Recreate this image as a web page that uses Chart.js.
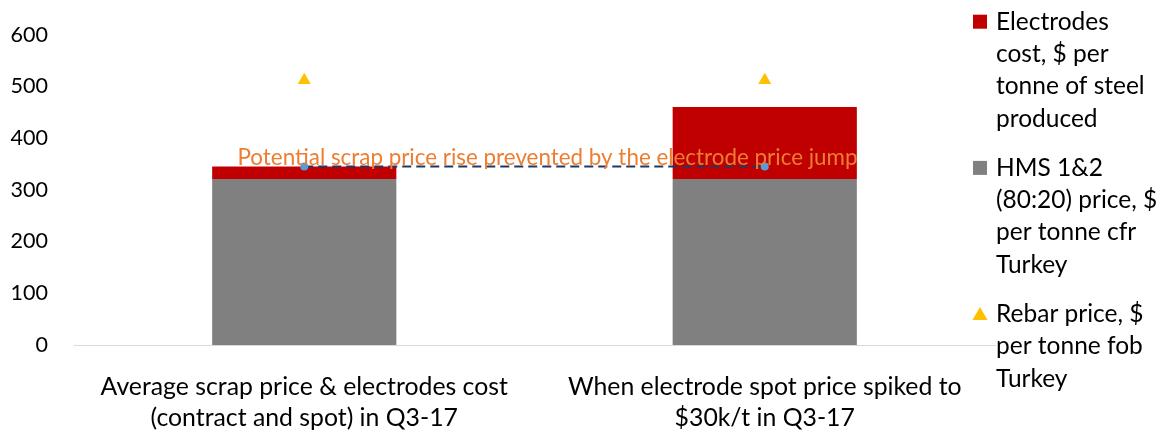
<!DOCTYPE html>
<html>
<head>
<meta charset="utf-8">
<script src="https://cdn.jsdelivr.net/npm/chart.js@4/dist/chart.umd.min.js"></script>
<style>
html,body{margin:0;padding:0;background:#fff;}
#wrap{position:relative;width:1166px;height:434px;}
</style>
</head>
<body>
<div id="wrap"><canvas id="c" width="1166" height="434"></canvas></div>
<script>
// ---- data ----
const categories = [
  ["Average scrap price & electrodes cost", "(contract and spot) in Q3-17"],
  ["When electrode spot price spiked to", "$30k/t in Q3-17"]
];
const scrapPrice = [321, 321];          // HMS 1&2 (80:20) price
const electrodesCost = [24, 139];        // Electrodes cost
const rebarPrice = [512, 512];           // Rebar price
const potentialLine = [345, 345];        // potential scrap price line
const yTicks = [0, 100, 200, 300, 400, 500, 600];
const lineLabel = "Potential scrap price rise prevented by the electrode price jump";
const legendElectrodes = ["Electrodes", "cost, $ per", "tonne of steel", "produced"];
const legendScrap = ["HMS 1&2", "(80:20) price, $", "per tonne cfr", "Turkey"];
const legendRebar = ["Rebar price, $", "per tonne fob", "Turkey"];

const FONT = "Lato, 'Liberation Sans', sans-serif";

const annotationPlugin = {
  id: 'annot',
  afterDatasetsDraw(chart) {
    const ctx = chart.ctx;
    const meta = chart.getDatasetMeta(3);
    const p0 = meta.data[0], p1 = meta.data[1];
    ctx.save();
    ctx.font = "22.4px " + FONT;
    ctx.fillStyle = "#ED7D31";
    ctx.textAlign = "center";
    ctx.textBaseline = "middle";
    ctx.fillText(lineLabel, (p0.x + p1.x) / 2 + 13, p0.y - 9);
    ctx.restore();
  },
  afterDraw(chart) {
    const ctx = chart.ctx;
    const items = [
      {lines: legendElectrodes, ds: 1, style: 'rect'},
      {lines: legendScrap, ds: 0, style: 'rect'},
      {lines: legendRebar, ds: 2, style: 'triangle'}
    ];
    const x0 = 973, tx = 996, lh = 32.3;
    let y = 21.7;
    ctx.save();
    ctx.font = "24.5px " + FONT;
    ctx.textAlign = "left";
    ctx.textBaseline = "middle";
    items.forEach(it => {
      const col = chart.data.datasets[it.ds].backgroundColor;
      ctx.fillStyle = col;
      if (it.style === 'rect') {
        ctx.fillRect(x0, y - 7, 14, 14);
      } else {
        ctx.beginPath();
        ctx.moveTo(x0 + 7, y - 7);
        ctx.lineTo(x0 + 14.5, y + 6);
        ctx.lineTo(x0 - 0.5, y + 6);
        ctx.closePath();
        ctx.fill();
      }
      ctx.fillStyle = "#000";
      it.lines.forEach((ln, i) => ctx.fillText(ln, tx, y + i * lh));
      y += it.lines.length * lh + 17;
    });
    ctx.restore();
  }
};

new Chart(document.getElementById('c'), {
  data: {
    labels: categories,
    datasets: [
      {type: 'bar', label: 'HMS 1&2 (80:20) price, $ per tonne cfr Turkey', data: scrapPrice,
       backgroundColor: '#808080', stack: 'bars', categoryPercentage: 1, barPercentage: 0.4, order: 2},
      {type: 'bar', label: 'Electrodes cost, $ per tonne of steel produced', data: electrodesCost,
       backgroundColor: '#C00000', stack: 'bars', categoryPercentage: 1, barPercentage: 0.4, order: 3},
      {type: 'line', label: 'Rebar price, $ per tonne fob Turkey', data: rebarPrice, stack: 'rebar',
       showLine: false, pointStyle: 'triangle', pointRadius: 7.5, pointBorderWidth: 0,
       backgroundColor: '#FFC000', pointBackgroundColor: '#FFC000', borderColor: '#FFC000', order: 1},
      {type: 'line', label: 'Potential', data: potentialLine, stack: 'potential',
       borderColor: '#1F3864', borderWidth: 2, borderDash: [9, 5],
       pointRadius: 4, pointBackgroundColor: '#5B9BD5', pointBorderColor: '#5B9BD5', pointBorderWidth: 0,
       fill: false, order: 0}
    ]
  },
  options: {
    responsive: false,
    animation: false,
    events: [],
    layout: {padding: {top: 0, right: 171, bottom: 0, left: 0}},
    plugins: {legend: {display: false}, tooltip: {enabled: false}},
    scales: {
      x: {
        stacked: true,
        grid: {display: false, drawTicks: false},
        border: {display: true, color: '#D9D9D9', width: 1},
        ticks: {color: '#000', font: {family: FONT, size: 24.8, lineHeight: 1.25}, padding: 26.5, maxRotation: 0, autoSkip: false},
        afterFit(scale) { scale.height = 89; }
      },
      y: {
        stacked: true,
        min: 0, max: 600,
        afterBuildTicks(axis) { axis.ticks = yTicks.map(v => ({value: v})); },
        grid: {display: false, drawTicks: false},
        border: {display: false},
        ticks: {color: '#000', font: {family: FONT, size: 21.5, lineHeight: 0.8}, padding: 26},
        afterFit(scale) { scale.width = 74; }
      }
    }
  },
  plugins: [annotationPlugin]
});
</script>
</body>
</html>
